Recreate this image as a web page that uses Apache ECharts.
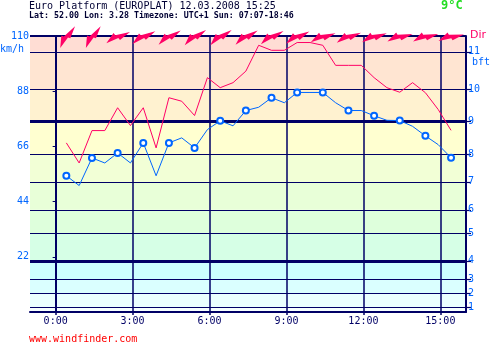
<!DOCTYPE html>
<html><head><meta charset="utf-8">
<script src="https://cdn.jsdelivr.net/npm/echarts@6/dist/echarts.min.js"></script>
<style>html,body{margin:0;padding:0;background:#fff}#c{width:495px;height:348px}</style>
</head><body><div id="c"></div>
<script>
// ---- data ----
const times = ['0:25','0:55','1:25','1:55','2:25','2:55','3:25','3:55','4:25','4:55','5:25','5:55','6:25','6:55','7:25','7:55','8:25','8:55','9:25','9:55','10:25','10:55','11:25','11:55','12:25','12:55','13:25','13:55','14:25','14:55','15:25'];
const wind = [54.3,50.4,61.4,59.4,63.4,59.4,67.4,54.3,67.4,69.4,65.4,72.7,76.2,74.2,80.3,81.6,85.4,83.4,87.5,87.5,87.5,83.4,80.3,80.3,78.2,76.4,76.3,74.0,70.2,66.7,61.5];
const gust = [67.4,59.4,72.3,72.3,81.4,74.3,81.4,65.4,85.4,84.0,78.3,93.4,89.4,91.4,96.0,106.3,104.3,104.3,107.4,107.4,106.3,98.3,98.3,98.3,93.4,89.4,87.6,91.4,87.4,80.7,72.4];
const dirTimes = ['0:25','1:25','2:25','3:25','4:25','5:25','6:25','7:25','8:25','9:25','10:25','11:25','12:25','13:25','14:25','15:25'];
const dirDeg = [222,222,252,248,245,242,242,245,247,250,258,255,258,261,261,263];
const hourTicks = [0,3,6,9,12,15];
const kmhTicks = [22,44,66,88,110];
const bftLevels = [1,2,3,4,5,6,7,8,9,10,11];
const bftKmh = [1.85,7.41,12.96,20.37,31.48,40.74,51.86,62.97,75.93,88.90,103.71];
const bandColors = ['#F6FFFF','#EAFFFF','#DAFFFF','#CCFFFF','#D6FFE6','#DEFFDC','#E8FFD8','#F2FFD6','#FFFFD0','#FFF2D0','#FFE5D2','#FFDDD4'];

const NAVY = '#000066', BLUE = '#0066FF', PINK = '#FF0066';
const MONO = '"DejaVu Sans Mono", monospace';
const toH = s => { const p = s.split(':'); return +p[0] + (+p[1]) / 60; };
// arrow outline (local pixels, pointing right)
const ARROW = [[-13,3.5],[-3,-4],[-2,-1.5],[13,0],[1,4.5],[0,2.2]];

const bounds = [0].concat(bftKmh, [110]);
const bandData = bandColors.map((c, i) => [{yAxis: bounds[i], itemStyle: {color: c}}, {yAxis: bounds[i + 1]}]);
const hLines = bftKmh.map((v, i) => ({yAxis: v, lineStyle: {width: (bftLevels[i] === 4 || bftLevels[i] === 9) ? 3 : 1.2}}));
hLines.push({yAxis: 110, lineStyle: {width: 2}});
const vLines = hourTicks.map(h => ({xAxis: h, lineStyle: {width: 1.5}}));

const chart = echarts.init(document.getElementById('c'), null, {renderer: 'canvas'});
chart.setOption({
  animation: false,
  grid: {left: 30, right: 29, top: 36, bottom: 36, show: false},
  xAxis: {
    type: 'value', min: -1, max: 16, z: 10,
    axisLine: {show: true, lineStyle: {color: NAVY, width: 2}},
    axisTick: {show: true, customValues: hourTicks, length: 3, lineStyle: {color: NAVY, width: 1.5}},
    axisLabel: {customValues: hourTicks, formatter: v => v + ':00', color: NAVY, fontFamily: MONO, fontSize: 10, margin: 4},
    splitLine: {show: false}
  },
  yAxis: [{
    type: 'value', min: 0, max: 110, z: 10, position: 'left',
    axisLine: {show: true, lineStyle: {color: NAVY, width: 2}},
    axisTick: {show: true, customValues: kmhTicks, length: 3, lineStyle: {color: NAVY}},
    axisLabel: {customValues: kmhTicks, color: BLUE, fontFamily: MONO, fontSize: 10, margin: 1},
    splitLine: {show: false}
  }, {
    type: 'value', min: 0, max: 110, z: 10, position: 'right',
    axisLine: {show: true, lineStyle: {color: NAVY, width: 2}},
    axisTick: {show: true, customValues: bftKmh, length: 5, lineStyle: {color: NAVY, width: 1.2}},
    axisLabel: {customValues: bftKmh, color: BLUE, fontFamily: MONO, fontSize: 10, margin: 2,
      formatter: v => { let k = 0; bftKmh.forEach((b, i) => { if (Math.abs(b - v) < 0.01) k = i; }); return String(bftLevels[k]); }},
    splitLine: {show: false}
  }],
  series: [{
    type: 'line', z: 1, data: [[-1, 0]], symbol: 'none', lineStyle: {opacity: 0}, silent: true,
    markArea: {silent: true, data: bandData}
  }, {
    type: 'line', z: 2, data: [[-1, 0]], symbol: 'none', lineStyle: {opacity: 0}, silent: true,
    markLine: {silent: true, symbol: 'none', label: {show: false}, lineStyle: {color: NAVY, type: 'solid'},
      data: hLines.concat(vLines)}
  }, {
    type: 'line', z: 5, name: 'gust',
    data: times.map((t, i) => [toH(t), gust[i]]),
    symbol: 'none', lineStyle: {color: PINK, width: 1}, itemStyle: {color: PINK}
  }, {
    type: 'line', z: 6, name: 'wind',
    data: times.map((t, i) => ({value: [toH(t), wind[i]], symbol: t.endsWith(':25') ? 'emptyCircle' : 'none'})),
    symbolSize: 6, showAllSymbol: true,
    lineStyle: {color: BLUE, width: 1}, itemStyle: {color: BLUE, borderWidth: 1.5}
  }, {
    type: 'custom', z: 8, clip: false,
    data: dirTimes.map((t, i) => [toH(t), 110, dirDeg[i]]),
    renderItem: (params, api) => {
      const c = api.coord([api.value(0), api.value(1)]);
      const th = (270 - api.value(2)) * Math.PI / 180;
      const cs = Math.cos(th), sn = Math.sin(th);
      const pts = ARROW.map(p => [c[0] + p[0] * cs + p[1] * sn, c[1] - p[0] * sn + p[1] * cs]);
      return {type: 'polygon', shape: {points: pts}, style: {fill: PINK}};
    }
  }],
  graphic: [
    {type: 'text', left: 29, top: 1, style: {text: 'Euro Platform (EUROPLAT) 12.03.2008 15:25', fill: '#000033', font: '10px ' + MONO}},
    {type: 'text', left: 29, top: 12, style: {text: 'Lat: 52.00 Lon: 3.28 Timezone: UTC+1 Sun: 07:07-18:46', fill: '#000033', font: 'bold 8.3px ' + MONO}},
    {type: 'text', left: 441, top: 0, style: {text: '9°C', fill: '#22DD22', font: 'bold 12px ' + MONO}},
    {type: 'text', left: 0, top: 44, style: {text: 'km/h', fill: BLUE, font: '10px ' + MONO}},
    {type: 'text', left: 470, top: 30, style: {text: 'Dir', fill: PINK, font: '11px "DejaVu Sans"'}},
    {type: 'text', left: 472, top: 57, style: {text: 'bft', fill: BLUE, font: '10px ' + MONO}},
    {type: 'text', left: 29, top: 334, style: {text: 'www.windfinder.com', fill: '#FF0000', font: '10px ' + MONO}}
  ]
});
</script></body></html>
